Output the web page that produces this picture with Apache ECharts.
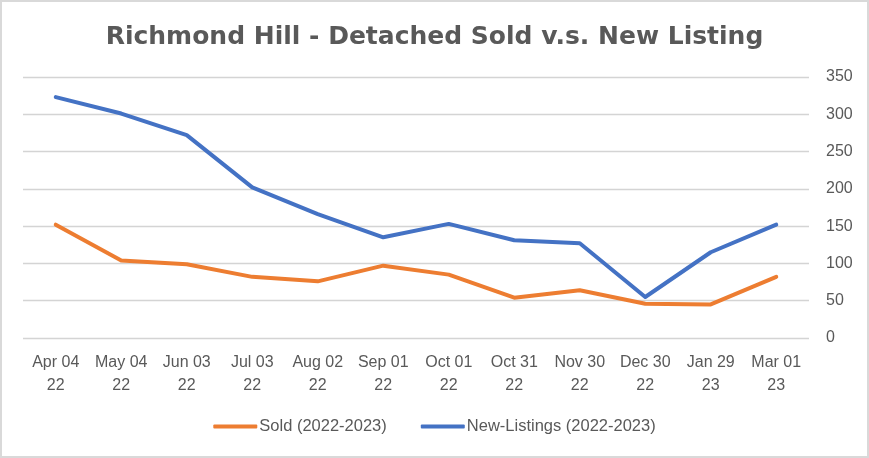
<!DOCTYPE html>
<html>
<head>
<meta charset="utf-8">
<script src="https://cdn.jsdelivr.net/npm/echarts@6/dist/echarts.min.js"></script>
<style>
html,body{margin:0;padding:0;background:#fff;}
#wrap{position:absolute;left:0;top:0;width:865px;height:454px;border:2px solid #d9d9d9;}
#chart{width:865px;height:454px;}
</style>
</head>
<body>
<div id="wrap"><div id="chart"></div></div>
<script>
const categories = ["Apr 04\n22","May 04\n22","Jun 03\n22","Jul 03\n22","Aug 02\n22","Sep 01\n22","Oct 01\n22","Oct 31\n22","Nov 30\n22","Dec 30\n22","Jan 29\n23","Mar 01\n23"];
const sold = [152,104,99,82,76,97,85,54,64,46,45,82];
const newListings = [323,301,272,202,166,135,153,131,127,55,115,152];
const titleText = "Richmond Hill - Detached Sold v.s. New Listing";
const seriesNames = ["Sold (2022-2023)","New-Listings (2022-2023)"];

const chart = echarts.init(document.getElementById('chart'));
chart.setOption({
  animation:false,
  title:{text:titleText,left:'center',top:18,textStyle:{fontFamily:'DejaVu Sans',fontWeight:'bold',fontSize:25,color:'#595959'}},
  legend:{bottom:16,left:'center',itemWidth:44,itemHeight:4,itemGap:34,icon:'roundRect',
    textStyle:{fontFamily:'Liberation Sans',fontSize:16.5,color:'#595959',padding:[0,0,0,-3]},data:seriesNames},
  grid:{left:21,right:58,top:75,bottom:118,containLabel:false},
  xAxis:{type:'category',data:categories,boundaryGap:true,
    axisLine:{show:false},axisTick:{show:false},
    axisLabel:{interval:0,fontFamily:'Liberation Sans',fontSize:16,color:'#595959',lineHeight:23,margin:13}},
  yAxis:{type:'value',position:'right',min:0,max:350,interval:50,
    axisLine:{show:false},axisTick:{show:false},
    splitLine:{lineStyle:{color:'#d4d4d4',width:1.3}},
    axisLabel:{fontFamily:'Liberation Sans',fontSize:16,color:'#595959',margin:17}},
  series:[
    {name:seriesNames[0],type:'line',data:sold,symbol:'none',lineStyle:{color:'#ED7D31',width:4,cap:'round',join:'round'},itemStyle:{color:'#ED7D31'}},
    {name:seriesNames[1],type:'line',data:newListings,symbol:'none',lineStyle:{color:'#4472C4',width:4,cap:'round',join:'round'},itemStyle:{color:'#4472C4'}}
  ]
});
</script>
</body>
</html>
